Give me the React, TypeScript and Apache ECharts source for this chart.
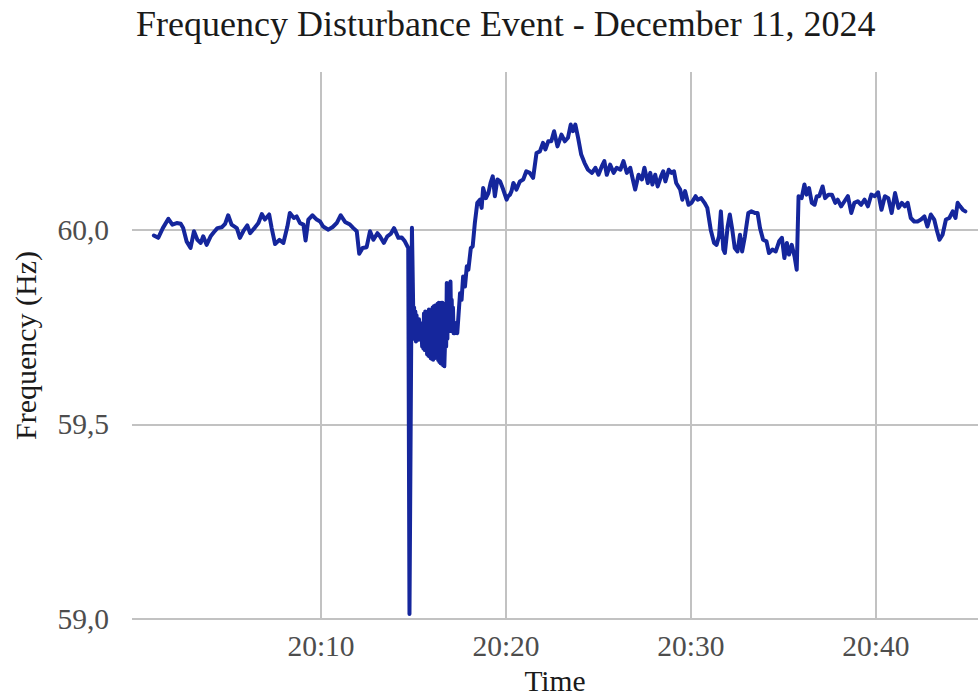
import { useEffect, useRef } from "react";
import * as echarts from "echarts";

// seconds after 20:00:00
const secondsAfter2000: number[] = [
  58, 72, 87, 105, 118, 132, 145, 153, 164, 177, 188, 199, 210, 218, 229, 242, 253, 264, 278, 289,
  299, 310, 327, 337, 348, 361, 370, 386, 397, 408, 418, 432, 440, 451, 465, 478, 491, 499, 512, 521,
  532, 543, 550, 559, 572, 586, 597, 607, 624, 638, 651, 664, 678, 694, 705, 716, 724, 735, 748, 759,
  770, 783, 791, 804, 815, 826, 837, 851, 862, 872, 883, 887, 895,
  900, 902, 904, 906, 908, 910, 912, 914, 916, 918, 920, 922, 924, 926, 928, 930, 932, 934, 936, 938,
  940, 942, 944, 946, 948, 950, 952, 954, 956, 958, 960, 962, 964, 966, 968, 970, 972, 974, 976, 978,
  980, 982, 984, 986, 988, 990, 992, 994, 996, 998, 1000, 1002, 1004, 1006, 1008, 1010, 1012, 1014, 1016, 1018,
  1020, 1022, 1024, 1026, 1028, 1030, 1034, 1038, 1042,
  1051, 1056, 1061, 1067,
  1073, 1078, 1086, 1092, 1099, 1107, 1116, 1121, 1126, 1135, 1143, 1150, 1157, 1164, 1172, 1181, 1191, 1202, 1207, 1213,
  1218, 1224, 1234, 1245, 1256, 1266, 1277, 1288, 1299, 1310, 1320, 1328, 1337, 1347, 1356, 1367, 1380, 1391, 1401, 1410,
  1417, 1425, 1434, 1444, 1455, 1466, 1479, 1490, 1500, 1511, 1519, 1527, 1538, 1549, 1559, 1571, 1581, 1592, 1603, 1614,
  1619, 1630, 1641, 1649, 1660, 1668, 1675, 1684, 1692, 1703, 1710, 1717, 1728, 1737, 1745, 1752, 1765, 1772, 1781, 1792,
  1802, 1815, 1822, 1833, 1844, 1853, 1864, 1875, 1883, 1891, 1897, 1905, 1910, 1919, 1926, 1934, 1942, 1951, 1959, 1966,
  1975, 1986, 1996, 2007, 2016, 2024, 2034, 2045, 2053, 2064, 2075, 2086, 2095, 2103, 2111, 2118, 2127, 2136, 2143, 2149,
  2159, 2168, 2175, 2183, 2192, 2201, 2208, 2216, 2227, 2235, 2246, 2257, 2268, 2276, 2287, 2298, 2309, 2320, 2330, 2341,
  2352, 2363, 2374, 2385, 2396, 2407, 2418, 2429, 2440, 2451, 2462, 2473, 2484, 2494, 2503, 2513, 2524, 2535, 2546, 2557,
  2567, 2578, 2589, 2597, 2606, 2616, 2627, 2638, 2649, 2658, 2665, 2673, 2682, 2690,
];

const frequencyHz: number[] = [
  59.985, 59.979, 60.004, 60.028, 60.013, 60.017, 60.015, 60.004, 59.970, 59.953, 59.996, 59.974, 59.966, 59.983, 59.961, 59.983, 59.994, 60.004, 60.006, 60.015,
  60.037, 60.013, 60.004, 59.979, 59.996, 60.011, 59.991, 60.006, 60.017, 60.040, 60.026, 60.039, 60.004, 59.963, 59.974, 59.966, 60.008, 60.043, 60.030, 60.034,
  60.017, 60.013, 59.972, 60.026, 60.037, 60.026, 60.021, 60.008, 60.000, 60.007, 60.017, 60.037, 60.020, 60.013, 60.004, 59.996, 59.938, 59.953, 59.955, 59.996,
  59.974, 59.991, 59.983, 59.966, 59.983, 59.989, 60.004, 59.979, 59.980, 59.970, 59.953, 59.013, 60.005,
  59.750, 59.800, 59.720, 59.790, 59.713, 59.780, 59.720, 59.760, 59.717, 59.770, 59.730, 59.760, 59.720, 59.751, 59.700, 59.760, 59.695, 59.785, 59.691, 59.790,
  59.690, 59.785, 59.680, 59.790, 59.676, 59.795, 59.674, 59.790, 59.670, 59.794, 59.668, 59.800, 59.666, 59.803, 59.670, 59.805, 59.672, 59.806, 59.674, 59.810,
  59.665, 59.812, 59.660, 59.810, 59.657, 59.812, 59.655, 59.812, 59.652, 59.810, 59.649, 59.700, 59.760, 59.700, 59.863, 59.720, 59.860, 59.740, 59.803, 59.740,
  59.867, 59.760, 59.820, 59.740, 59.800, 59.734, 59.734, 59.760, 59.734,
  59.837, 59.820, 59.880, 59.854,
  59.906, 59.897, 59.953, 59.957, 60.017, 60.069, 60.077, 60.056, 60.107, 60.081, 60.094, 60.120, 60.137, 60.086, 60.129, 60.124, 60.103, 60.077, 60.086, 60.090,
  60.099, 60.120, 60.103, 60.124, 60.129, 60.150, 60.146, 60.133, 60.197, 60.201, 60.223, 60.206, 60.227, 60.227, 60.253, 60.214, 60.244, 60.227, 60.236, 60.270,
  60.253, 60.270, 60.236, 60.193, 60.171, 60.154, 60.146, 60.159, 60.141, 60.163, 60.176, 60.141, 60.167, 60.146, 60.159, 60.154, 60.176, 60.146, 60.159, 60.120,
  60.103, 60.141, 60.129, 60.159, 60.120, 60.146, 60.116, 60.141, 60.111, 60.137, 60.150, 60.124, 60.154, 60.146, 60.150, 60.120, 60.103, 60.077, 60.099, 60.064,
  60.069, 60.086, 60.077, 60.081, 60.069, 60.056, 60.000, 59.966, 59.961, 59.983, 60.047, 59.949, 59.940, 60.008, 60.039, 60.000, 59.953, 59.944, 59.987, 59.944,
  59.983, 60.043, 60.047, 60.043, 60.043, 60.004, 59.974, 59.970, 59.940, 59.949, 59.944, 59.970, 59.979, 59.927, 59.966, 59.936, 59.961, 59.931, 59.897, 60.086,
  60.081, 60.116, 60.090, 60.107, 60.069, 60.064, 60.086, 60.086, 60.111, 60.081, 60.090, 60.090, 60.069, 60.077, 60.060, 60.073, 60.086, 60.043, 60.069, 60.073,
  60.064, 60.077, 60.060, 60.090, 60.086, 60.096, 60.051, 60.086, 60.081, 60.043, 60.094, 60.056, 60.069, 60.060, 60.069, 60.030, 60.021, 60.021, 60.026, 60.034,
  60.008, 60.039, 60.026, 60.000, 59.974, 59.987, 60.026, 60.030, 60.047, 60.030, 60.069, 60.060, 60.051, 60.047,
];

const timeTickSeconds: number[] = [600, 1200, 1800, 2400];
const freqTicks: number[] = [59.0, 59.5, 60.0];

const titleText = "Frequency Disturbance Event - December 11, 2024";
const xName = "Time";
const yName = "Frequency (Hz)";

const FONT = "'Liberation Serif', 'Times New Roman', serif";

function fmtTime(s: number): string {
  const h = 20 + Math.floor(s / 3600);
  const m = Math.floor((s % 3600) / 60);
  return `${h}:${String(m).padStart(2, "0")}`;
}

export default function App() {
  const ref = useRef<HTMLDivElement>(null);
  useEffect(() => {
    if (!ref.current) return;
    const chart = echarts.init(ref.current, null, { renderer: "svg" });
    const data = secondsAfter2000.map((s, i) => [s, frequencyHz[i]]);
    chart.setOption({
      animation: false,
      backgroundColor: "#ffffff",
      title: {
        text: titleText,
        left: 131,
        top: 1,
        textStyle: { fontFamily: FONT, fontSize: 36, fontWeight: "normal", color: "#1a1a1a" },
      },
      grid: { left: 132, right: 0, top: 72, bottom: 77, containLabel: false, outerBoundsMode: "none" },
      xAxis: {
        type: "value",
        min: -13,
        max: 2731,
        name: xName,
        nameLocation: "middle",
        nameGap: 46,
        nameTextStyle: { fontFamily: FONT, fontSize: 29.5, color: "#1a1a1a" },
        axisLine: { show: false },
        axisTick: { show: false, customValues: timeTickSeconds },
        axisLabel: {
          customValues: timeTickSeconds,
          formatter: (v: number) => fmtTime(v),
          fontFamily: FONT,
          fontSize: 29.5,
          color: "#4d4d4d",
          margin: 12,
        },
        splitLine: { show: true, lineStyle: { color: "#c2c2c2", width: 2 } },
      },
      yAxis: {
        type: "value",
        min: 59.0,
        max: 60.405,
        name: yName,
        nameLocation: "middle",
        nameGap: 92,
        nameRotate: 90,
        nameTextStyle: { fontFamily: FONT, fontSize: 30, color: "#1a1a1a" },
        axisLine: { show: false },
        axisTick: { show: false, customValues: freqTicks },
        axisLabel: {
          customValues: freqTicks,
          formatter: (v: number) => v.toFixed(1).replace(".", ","),
          fontFamily: FONT,
          fontSize: 29.5,
          color: "#4d4d4d",
          margin: 23,
        },
        splitLine: { show: true, lineStyle: { color: "#c2c2c2", width: 2 } },
      },
      series: [
        {
          type: "line",
          data,
          showSymbol: false,
          symbol: "none",
          lineStyle: { color: "#15269c", width: 4, join: "round", cap: "round" },
          z: 5,
        },
      ],
    });
    return () => chart.dispose();
  }, []);
  return (
    <div
      ref={ref}
      style={{ position: "absolute", left: 0, top: 0, width: 978, height: 696 }}
    />
  );
}
